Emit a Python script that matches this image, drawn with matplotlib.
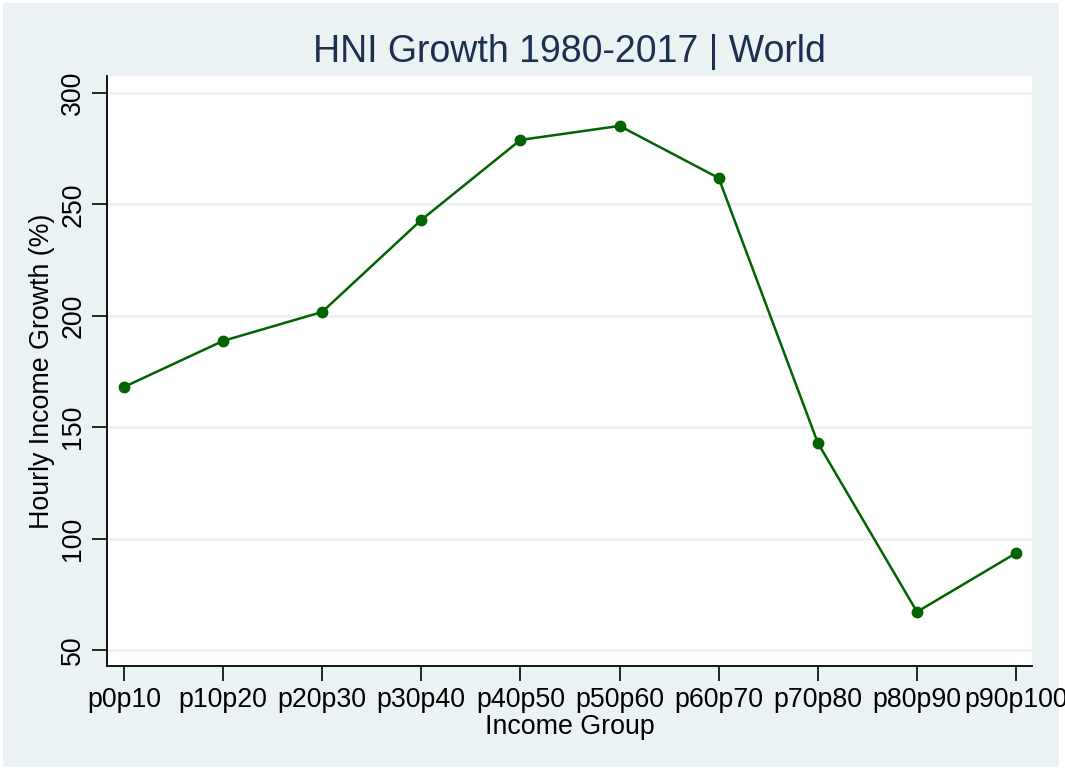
import matplotlib
matplotlib.use("Agg")
import matplotlib.pyplot as plt
from matplotlib.patches import Rectangle

groups = ["p0p10", "p10p20", "p20p30", "p30p40", "p40p50",
          "p50p60", "p60p70", "p70p80", "p80p90", "p90p100"]
growth = [168.0, 188.7, 201.7, 243.0, 278.9, 285.2, 261.8, 142.9, 67.1, 93.5]
yticks = [50, 100, 150, 200, 250, 300]

BG = "#EAF2F3"
LINE = "#006400"
TITLE = "#1C2F50"

plt.rcParams['font.family'] = ['Liberation Sans', 'DejaVu Sans']

W, H = 1065, 770
fig = plt.figure(figsize=(W / 100, H / 100), dpi=100, facecolor="white")
bgrect = Rectangle((3 / W, 3 / H), (1059 - 3) / W, (767 - 3) / H,
                   transform=fig.transFigure, facecolor=BG,
                   edgecolor="none", zorder=-10)
fig.patches.append(bgrect)

left, right, top, bottom = 107, 1032, 76, 666
ax = fig.add_axes([left / W, 1 - bottom / H, (right - left) / W, (bottom - top) / H])
ax.set_zorder(5)
ax.set_facecolor("white")

x = list(range(len(groups)))
ax.plot(x, growth, color=LINE, lw=1.8, marker="o", ms=7.5, zorder=3)

ax.set_xlim(-0.17, 9.16)
ax.set_ylim(42.8, 307.6)
ax.set_xticks(x)
ax.set_xticklabels(groups, fontsize=19.3)
ax.set_yticks(yticks)
ax.set_yticklabels([str(v) for v in yticks], fontsize=19.3, rotation=90, va="center")
ax.grid(axis="y", color=BG, lw=1.8)
ax.set_axisbelow(True)

for s in ["top", "right"]:
    ax.spines[s].set_visible(False)
for s in ["left", "bottom"]:
    ax.spines[s].set_linewidth(1.3)
    ax.spines[s].set_color("black")
ax.tick_params(axis="both", length=11, width=1.2, color="black", pad=4)

ax.set_xlabel("Income Group", fontsize=19.3, labelpad=1)
ax.set_ylabel("Hourly Income Growth (%)", fontsize=19.3, labelpad=4)
ax.set_title("HNI Growth 1980-2017 | World", fontsize=27, color=TITLE, pad=10)

fig.savefig("out.png", dpi=100, facecolor="white")
